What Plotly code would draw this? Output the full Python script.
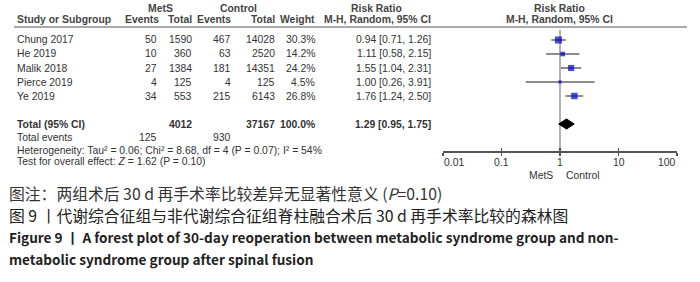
import math
import plotly.graph_objects as go

# ---------------- data ----------------
studies = ["Chung 2017", "He 2019", "Malik 2018", "Pierce 2019", "Ye 2019"]
mets_events = [50, 10, 27, 4, 34]
mets_total = [1590, 360, 1384, 125, 553]
ctrl_events = [467, 63, 181, 4, 215]
ctrl_total = [14028, 2520, 14351, 125, 6143]
weights = [30.3, 14.2, 24.2, 4.5, 26.8]
rr = [0.94, 1.11, 1.55, 1.00, 1.76]
rr_lo = [0.71, 0.58, 1.04, 0.26, 1.24]
rr_hi = [1.26, 2.15, 2.31, 3.91, 2.50]

pooled = {"rr": 1.29, "lo": 0.95, "hi": 1.75}
tot_mets_total, tot_ctrl_total = 4012, 37167
tot_mets_events, tot_ctrl_events = 125, 930
tick_vals = [0.01, 0.1, 1, 10, 100]
tick_text = ["0.01", "0.1", "1", "10", "100"]
het_text = "Heterogeneity: Tau² = 0.06; Chi² = 8.68, df = 4 (P = 0.07); I² = 54%"
test_text = "Test for overall effect: <i>Z</i> = 1.62 (P = 0.10)"
captions = [
    "图注：两组术后 30 d 再手术率比较差异无显著性意义 (<i>P</i>=0.10)",
    "图 9 丨代谢综合征组与非代谢综合征组脊柱融合术后 30 d 再手术率比较的森林图",
    "Figure 9 丨 A forest plot of 30-day reoperation between metabolic syndrome group and non-",
    "metabolic syndrome group after spinal fusion",
]

# ---------------- layout helpers ----------------
W, H = 700, 282
ROW0, ROWH = 40, 14
PLOT_TOP, PLOT_BOT = 27, 151


def px(x):
    return x / W


def py(y):
    return 1 - y / H


def row_of(ypix):
    return (ypix - ROW0) / ROWH


FONT = "Liberation Sans, Arial, sans-serif"
TXT = "#333333"
FS = 10.4

fig = go.Figure()

for i in range(len(studies)):
    fig.add_trace(go.Scatter(
        x=[rr_lo[i], rr_hi[i]], y=[i, i], mode="lines",
        line=dict(color="#666666", width=1.5), hoverinfo="skip", showlegend=False))
fig.add_trace(go.Scatter(
    x=rr, y=list(range(len(studies))), mode="markers",
    marker=dict(symbol="square", color="#0000cc",
                size=[2.5 + 0.15 * w for w in weights], line=dict(width=0)),
    hoverinfo="skip", showlegend=False))
prow = 6
dh = 0.36
fig.add_trace(go.Scatter(
    x=[pooled["lo"], pooled["rr"], pooled["hi"], pooled["rr"], pooled["lo"]],
    y=[prow, prow - dh, prow, prow + dh, prow], mode="lines", fill="toself",
    fillcolor="black", line=dict(color="black", width=1),
    hoverinfo="skip", showlegend=False))
fig.add_trace(go.Scatter(x=[1], y=[0], xaxis="x2", mode="markers",
                         marker=dict(opacity=0), hoverinfo="skip", showlegend=False))

ydom = [py(PLOT_BOT), py(PLOT_TOP)]
yrange = [row_of(PLOT_BOT), row_of(PLOT_TOP)]

fig.update_layout(
    template="none",
    width=W, height=H, margin=dict(l=0, r=0, t=0, b=0, pad=0, autoexpand=False),
    paper_bgcolor="white", plot_bgcolor="white",
    xaxis=dict(type="log", range=[-2, 2], domain=[px(443), px(677)],
               showgrid=False, zeroline=False, showline=True,
               linecolor="#555555", linewidth=1.5,
               ticks="outside", ticklen=3, tickwidth=1.2, tickcolor="#555555",
               tickvals=tick_vals, showticklabels=False, anchor="y",
               automargin=False),
    xaxis2=dict(type="log", range=[-2, 2], domain=[px(443), px(677)],
                overlaying="x", matches="x", anchor="y", side="bottom",
                showgrid=False, zeroline=False, showline=False,
                ticks="inside", ticklen=3, tickwidth=1.2, tickcolor="#555555",
                tickvals=tick_vals, showticklabels=False, automargin=False),
    yaxis=dict(domain=ydom, range=yrange, visible=False, fixedrange=True,
               automargin=False),
    showlegend=False,
)

fig.add_shape(type="line", xref="x", yref="y domain", x0=1, x1=1, y0=0, y1=0.975,
              line=dict(color="#999999", width=1.5), layer="below")
fig.add_shape(type="line", xref="paper", yref="paper", x0=px(14), x1=px(687),
              y0=py(27), y1=py(27), line=dict(color="#555555", width=1))

ann = []


def add(text, x, y, xanchor="left", yref="paper", bold=False, size=FS, color=TXT,
        family=FONT, xref="paper"):
    t = f"<b>{text}</b>" if bold else text
    xv = px(x) if xref == "paper" else x
    ann.append(dict(text=t, x=xv, y=y, xref=xref, yref=yref, xanchor=xanchor,
                    align=xanchor, yanchor="middle", showarrow=False, borderpad=0,
                    font=dict(family=family, size=size, color=color)))


# axis tick labels (first left-aligned, last right-aligned, RevMan style);
# annotation positions on a log axis are given in log10 units
for k, (tv, tt) in enumerate(zip(tick_vals, tick_text)):
    anc = "left" if k == 0 else ("right" if k == len(tick_vals) - 1 else "center")
    add(tt, math.log10(tv), py(162), anc, xref="x")

HC = "#444444"
add("MetS", 160, py(8), "center", bold=True, color=HC)
add("Control", 238, py(8), "center", bold=True, color=HC)
add("Risk Ratio", 376, py(8), "center", bold=True, color=HC)
add("Risk Ratio", 559, py(8), "center", bold=True, color=HC)
add("Study or Subgroup", 16, py(19), "left", bold=True, color=HC)
add("Events", 160, py(19), "right", bold=True, color=HC)
add("Total", 193, py(19), "right", bold=True, color=HC)
add("Events", 232, py(19), "right", bold=True, color=HC)
add("Total", 276, py(19), "right", bold=True, color=HC)
add("Weight", 316, py(19), "right", bold=True, color=HC)
add("M-H, Random, 95% CI", 432, py(19), "right", bold=True, color=HC)
add("M-H, Random, 95% CI", 559, py(19), "center", bold=True, color=HC)

for i, s in enumerate(studies):
    add(s, 16, i, "left", yref="y")
    add(str(mets_events[i]), 158, i, "right", yref="y")
    add(str(mets_total[i]), 193, i, "right", yref="y")
    add(str(ctrl_events[i]), 232, i, "right", yref="y")
    add(str(ctrl_total[i]), 276, i, "right", yref="y")
    add(f"{weights[i]:.1f}%", 316, i, "right", yref="y")
    add(f"{rr[i]:.2f} [{rr_lo[i]:.2f}, {rr_hi[i]:.2f}]", 432, i, "right", yref="y")

add("Total (95% CI)", 16, prow, "left", yref="y", bold=True)
add(str(tot_mets_total), 193, prow, "right", yref="y", bold=True)
add(str(tot_ctrl_total), 276, prow, "right", yref="y", bold=True)
add(f"{sum(weights):.1f}%", 316, prow, "right", yref="y", bold=True)
add(f"{pooled['rr']:.2f} [{pooled['lo']:.2f}, {pooled['hi']:.2f}]", 432, prow,
    "right", yref="y", bold=True)
add("Total events", 16, py(138), "left")
add(str(tot_mets_events), 158, py(138), "right")
add(str(tot_ctrl_events), 232, py(138), "right")
add(het_text, 16, py(150), "left")
add(test_text, 16, py(161), "left")

add("MetS", 554, py(175), "right")
add("Control", 565, py(175), "left")

CJK = "Noto Sans CJK SC"
add(captions[0], 8, py(193), "left", size=15.8, color="#333333", family=CJK)
add(captions[1], 8, py(215), "left", size=15.8, color="#222222", family=CJK)
add(captions[2], 8, py(237), "left", bold=True, size=13.6, color="#222222", family=CJK)
add(captions[3], 8, py(259), "left", bold=True, size=13.6, color="#222222", family=CJK)

fig.update_layout(annotations=ann)
fig.write_html(
    "out.html",
    config={"displayModeBar": False, "staticPlot": True},
    post_script="document.body.style.margin='0';document.body.style.overflow='hidden';",
)
